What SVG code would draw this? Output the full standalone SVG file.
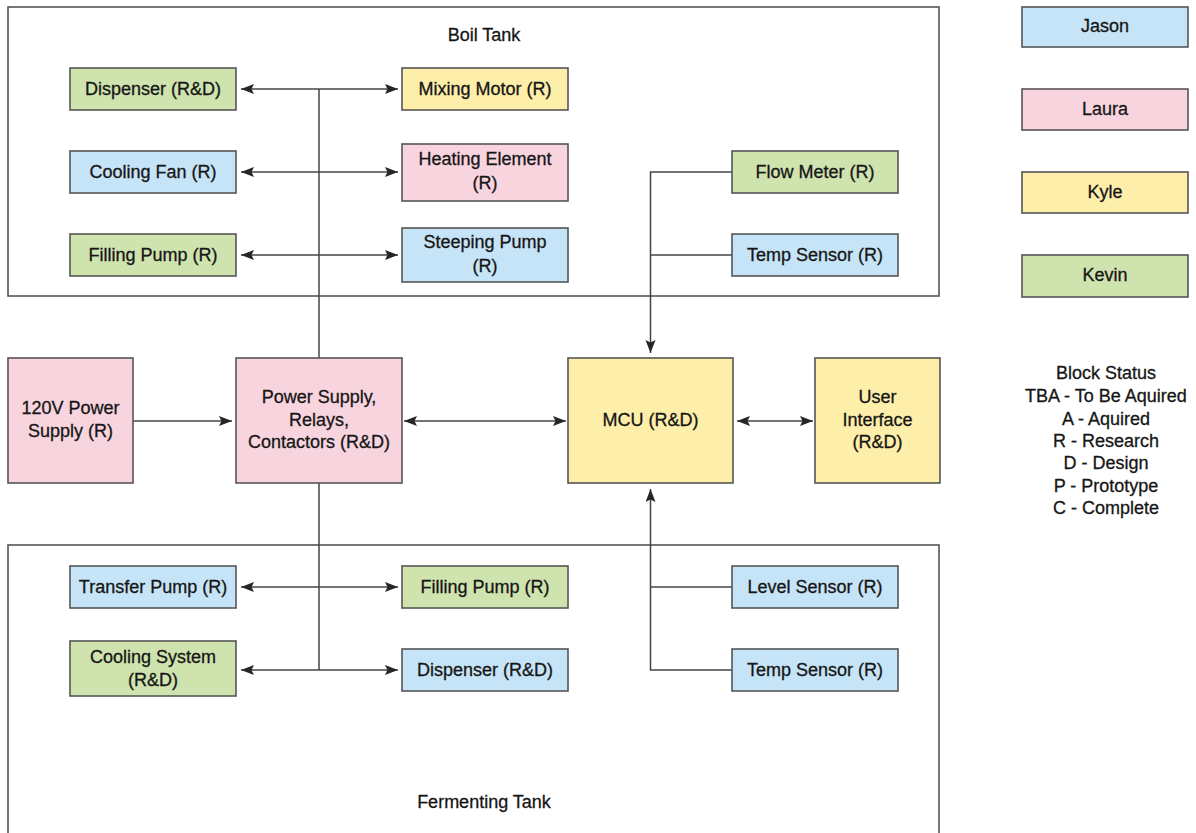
<svg xmlns="http://www.w3.org/2000/svg" width="1196" height="833" viewBox="0 0 1196 833">
<defs>
<style>
text{font-family:"Liberation Sans",Arial,sans-serif;font-size:18px;fill:#161616;stroke:#161616;stroke-width:0.3;text-anchor:middle}
.box{stroke:#555;stroke-width:1.6}
.frame{fill:none;stroke:#555;stroke-width:1.6}
.g{fill:#cfe3ae}
.b{fill:#c6e4f7}
.p{fill:#f8d4df}
.y{fill:#fdefa9}
.c{fill:none;stroke:#444;stroke-width:1.5}
</style>
<marker id="ah" markerUnits="userSpaceOnUse" markerWidth="16" markerHeight="12" refX="13" refY="5" orient="auto-start-reverse">
<path d="M0,0 L13,5 L0,10 L2.5,5 z" fill="#262626"/>
</marker>
</defs>
<g id="boil-tank"><rect class="frame" x="8" y="7" width="931" height="289"/><text x="484" y="41">Boil Tank</text></g>
<g id="fermenting-tank"><rect class="frame" x="8" y="545" width="931" height="300"/><text x="484" y="808">Fermenting Tank</text></g>

<g id="connectors">
<path class="c" d="M319,89 V358"/>
<path class="c" d="M241,89 H398" marker-start="url(#ah)" marker-end="url(#ah)"/>
<path class="c" d="M241,172 H398" marker-start="url(#ah)" marker-end="url(#ah)"/>
<path class="c" d="M241,255 H398" marker-start="url(#ah)" marker-end="url(#ah)"/>
<path class="c" d="M133,421 H232" marker-end="url(#ah)"/>
<path class="c" d="M404,421 H566" marker-start="url(#ah)" marker-end="url(#ah)"/>
<path class="c" d="M737,421 H813" marker-start="url(#ah)" marker-end="url(#ah)"/>
<path class="c" d="M732,172 H650.5 V353" marker-end="url(#ah)"/>
<path class="c" d="M732,255 H650.5"/>
<path class="c" d="M319,483 V670"/>
<path class="c" d="M241,587 H398" marker-start="url(#ah)" marker-end="url(#ah)"/>
<path class="c" d="M241,670 H398" marker-start="url(#ah)" marker-end="url(#ah)"/>
<path class="c" d="M732,670 H650.5 V489" marker-end="url(#ah)"/>
<path class="c" d="M732,587 H650.5"/>
</g>

<g id="dispenser-boil"><rect class="box g" x="70" y="68" width="166" height="42"/><text x="153" y="95">Dispenser (R&amp;D)</text></g>
<g id="cooling-fan"><rect class="box b" x="70" y="151" width="166" height="42"/><text x="153" y="178">Cooling Fan (R)</text></g>
<g id="filling-pump-boil"><rect class="box g" x="70" y="234" width="166" height="42"/><text x="153" y="261">Filling Pump (R)</text></g>
<g id="mixing-motor"><rect class="box y" x="402" y="68" width="166" height="42"/><text x="485" y="95">Mixing Motor (R)</text></g>
<g id="heating-element"><rect class="box p" x="402" y="144" width="166" height="57"/><text x="485" y="165">Heating Element</text><text x="485" y="189">(R)</text></g>
<g id="steeping-pump"><rect class="box b" x="402" y="228" width="166" height="54"/><text x="485" y="248">Steeping Pump</text><text x="485" y="272">(R)</text></g>
<g id="flow-meter"><rect class="box g" x="732" y="151" width="166" height="42"/><text x="815" y="178">Flow Meter (R)</text></g>
<g id="temp-sensor-boil"><rect class="box b" x="732" y="234" width="166" height="42"/><text x="815" y="261">Temp Sensor (R)</text></g>

<g id="legend-jason"><rect class="box b" x="1022" y="7" width="166" height="40"/><text x="1105" y="32">Jason</text></g>
<g id="legend-laura"><rect class="box p" x="1022" y="89" width="166" height="41"/><text x="1105" y="115">Laura</text></g>
<g id="legend-kyle"><rect class="box y" x="1022" y="172" width="166" height="41"/><text x="1105" y="198">Kyle</text></g>
<g id="legend-kevin"><rect class="box g" x="1022" y="255" width="166" height="42"/><text x="1105" y="281">Kevin</text></g>

<g id="power-120v"><rect class="box p" x="8" y="358" width="125" height="125"/><text x="70.5" y="414">120V Power</text><text x="70.5" y="437">Supply (R)</text></g>
<g id="power-supply"><rect class="box p" x="236" y="358" width="166" height="125"/><text x="319" y="403">Power Supply,</text><text x="319" y="426">Relays,</text><text x="319" y="448">Contactors (R&amp;D)</text></g>
<g id="mcu"><rect class="box y" x="568" y="358" width="165" height="125"/><text x="650.5" y="426">MCU (R&amp;D)</text></g>
<g id="user-interface"><rect class="box y" x="815" y="358" width="125" height="125"/><text x="877.5" y="403">User</text><text x="877.5" y="426">Interface</text><text x="877.5" y="448">(R&amp;D)</text></g>

<g id="block-status">
<text x="1106" y="379">Block Status</text>
<text x="1106" y="402">TBA - To Be Aquired</text>
<text x="1106" y="425">A - Aquired</text>
<text x="1106" y="447">R - Research</text>
<text x="1106" y="469">D - Design</text>
<text x="1106" y="492">P - Prototype</text>
<text x="1106" y="514">C - Complete</text>
</g>

<g id="transfer-pump"><rect class="box b" x="70" y="566" width="166" height="42"/><text x="153" y="593">Transfer Pump (R)</text></g>
<g id="cooling-system"><rect class="box g" x="70" y="641" width="166" height="55"/><text x="153" y="663">Cooling System</text><text x="153" y="686">(R&amp;D)</text></g>
<g id="filling-pump-ferm"><rect class="box g" x="402" y="566" width="166" height="42"/><text x="485" y="593">Filling Pump (R)</text></g>
<g id="dispenser-ferm"><rect class="box b" x="402" y="649" width="166" height="42"/><text x="485" y="676">Dispenser (R&amp;D)</text></g>
<g id="level-sensor"><rect class="box b" x="732" y="566" width="166" height="42"/><text x="815" y="593">Level Sensor (R)</text></g>
<g id="temp-sensor-ferm"><rect class="box b" x="732" y="649" width="166" height="42"/><text x="815" y="676">Temp Sensor (R)</text></g>
</svg>
